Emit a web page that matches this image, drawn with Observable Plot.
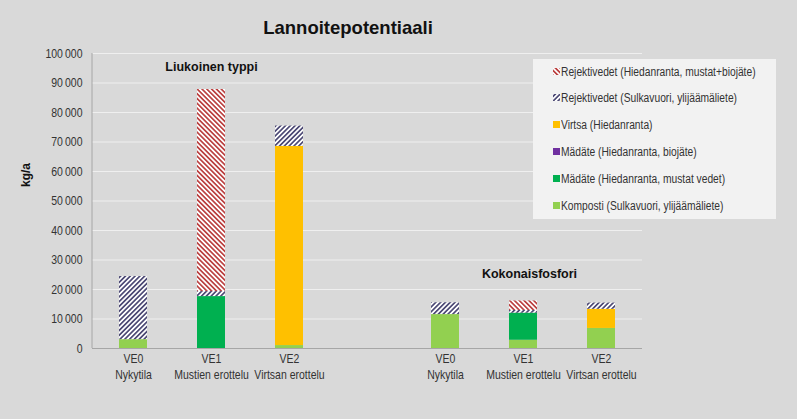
<!DOCTYPE html>
<html><head><meta charset="utf-8">
<script src="https://cdn.jsdelivr.net/npm/d3@7"></script>
<script src="https://cdn.jsdelivr.net/npm/@observablehq/plot@0.6"></script>
<style>
body{margin:0;background:#d9d9d9;}
#chart{position:relative;width:797px;height:419px;background:#d9d9d9;overflow:hidden;
  font-family:"Liberation Sans",Arial,sans-serif;color:#333;}
#title{position:absolute;left:238px;width:220px;top:17px;text-align:center;font:bold 18.5px "Liberation Sans",Arial,sans-serif;color:#111;}
#ylab{position:absolute;left:8px;top:168px;width:36px;text-align:center;transform:rotate(-90deg);font:bold 12px "Liberation Sans",Arial,sans-serif;color:#111;}
#legend{position:absolute;left:533px;top:59px;width:243px;height:160px;background:#f2f2f2;}
.row{position:absolute;left:20px;height:16px;line-height:16px;font-size:12.5px;white-space:nowrap;}
.row svg{position:absolute;left:0;top:4px;}
.row span{position:absolute;left:8px;top:0;transform:scaleX(0.82);transform-origin:0 50%;}
#plot{position:absolute;left:0;top:0;}
</style></head>
<body>
<div id="chart">
  <div id="plot"></div>
  <div id="title">Lannoitepotentiaali</div>
  <div id="ylab">kg/a</div>
  <div id="legend"></div>
</div>
<script>
// ---- data ----
const groups = ["Liukoinen typpi", "Kokonaisfosfori"];
const groupKeys = ["N", "P"];
const categories = ["VE0\nNykytila", "VE1\nMustien erottelu", "VE2\nVirtsan erottelu"];
const series = [
  "Komposti (Sulkavuori, ylijäämäliete)",
  "Mädäte (Hiedanranta, mustat vedet)",
  "Mädäte (Hiedanranta, biojäte)",
  "Virtsa (Hiedanranta)",
  "Rejektivedet (Sulkavuori, ylijäämäliete)",
  "Rejektivedet (Hiedanranta, mustat+biojäte)"
];
const seriesFills = ["#92d050", "#00b050", "#7030a0", "#ffc000", "url(#hatchNavy)", "url(#hatchRed)"];
// values per series: [N VE0, N VE1, N VE2], [P VE0, P VE1, P VE2]
const kompostiN = [3000, 0, 1000],     kompostiP = [11500, 2800, 6800];
const mustatN   = [0, 17600, 0],       mustatP   = [0, 9200, 0];
const biojateN  = [0, 0, 0],           biojateP  = [0, 0, 0];
const virtsaN   = [0, 0, 67500],       virtsaP   = [0, 0, 6500];
const sulkaN    = [21400, 1700, 6900], sulkaP    = [4000, 900, 2100];
const hiedaN    = [0, 68500, 0],       hiedaP    = [0, 3200, 0];
const yTicks = [0, 10000, 20000, 30000, 40000, 50000, 60000, 70000, 80000, 90000, 100000];
const groupLabelY = [95500, 25300];

// ---- build table ----
const valuesN = [kompostiN, mustatN, biojateN, virtsaN, sulkaN, hiedaN];
const valuesP = [kompostiP, mustatP, biojateP, virtsaP, sulkaP, hiedaP];
const keyOf = (g, i) => groupKeys[g] + i;
const xDomain = [...categories.map((c, i) => keyOf(0, i)), "gap", ...categories.map((c, i) => keyOf(1, i))];
const labelOf = new Map();
categories.forEach((c, i) => { labelOf.set(keyOf(0, i), c); labelOf.set(keyOf(1, i), c); });
const rows = [];
[valuesN, valuesP].forEach((vals, g) => {
  series.forEach((s, si) => {
    categories.forEach((c, i) => rows.push({x: keyOf(g, i), series: s, value: vals[si][i]}));
  });
});
const groupLabels = groups.map((g, i) => ({x: keyOf(i, 1), y: groupLabelY[i], text: g}));

const plot = Plot.plot({
  width: 797, height: 419,
  marginLeft: 92, marginRight: 155, marginTop: 53, marginBottom: 71,
  style: {background: "transparent", fontFamily: '"Liberation Sans",Arial,sans-serif', fontSize: "12.5px", color: "#333"},
  x: {domain: xDomain, paddingInner: 0.64, paddingOuter: 0.32},
  y: {domain: [0, 100000]},
  color: {domain: series, range: seriesFills},
  marks: [
    Plot.gridY(yTicks, {stroke: "#efefef", strokeOpacity: 1}),
    Plot.barY(rows, {x: "x", y: "value", fill: "series", order: null}),
    Plot.ruleY([0], {stroke: "#a6a6a6"}),
    Plot.axisY(yTicks, {tickSize: 0, tickPadding: 10, label: null, fontSize: 12.5,
      tickFormat: d => d3.format(",")(d).replace(/,/g, "\u2009")}),
    Plot.axisX({tickSize: 0, tickPadding: 3, label: null, fontSize: 12.5, lineHeight: 1.27,
      tickFormat: d => labelOf.get(d) || ""}),
    Plot.text(groupLabels.slice(0, 1), {x: "x", y: "y", text: "text", dx: 0, fontWeight: "bold",
      fontSize: 12.5, fill: "#111"}),
    Plot.text(groupLabels.slice(1), {x: "x", y: "y", text: "text", dx: 6, fontWeight: "bold",
      fontSize: 12.5, fill: "#111"})
  ]
});

// hatch patterns
const svg = d3.select(plot);
const defs = svg.insert("defs", ":first-child");
function hatch(id, color, angle) {
  const w = 3.4;
  const p = defs.append("pattern").attr("id", id).attr("patternUnits", "userSpaceOnUse")
    .attr("width", w).attr("height", w).attr("patternTransform", `rotate(${angle})`);
  p.append("rect").attr("width", w).attr("height", w).attr("fill", "#fff");
  p.append("line").attr("x1", w / 2).attr("y1", 0).attr("x2", w / 2).attr("y2", w)
    .attr("stroke", color).attr("stroke-width", 1.45);
}
hatch("hatchNavy", "#2f2b5e", 45);
hatch("hatchRed", "#b02222", -45);

// condense axis tick labels horizontally (narrow type as in the reference)
svg.selectAll('g[aria-label="y-axis tick label"] text, g[aria-label="x-axis tick label"] text')
  .attr("transform", function() { return (this.getAttribute("transform") || "") + " scale(0.84,1)"; });

// left axis line, using the plot's own scales
const xs = plot.scale("x"), ys = plot.scale("y");
const yScale = d3.scaleLinear(ys.domain, ys.range);
svg.append("line").attr("x1", xs.range[0]).attr("x2", xs.range[0])
  .attr("y1", yScale(ys.domain[1])).attr("y2", yScale(0)).attr("stroke", "#a6a6a6");

document.getElementById("plot").appendChild(plot);

// legend (reverse order, as in reference)
const legend = document.getElementById("legend");
const rowTops = [5, 31, 58, 85, 112, 139];
series.slice().reverse().forEach((s, i) => {
  const fill = seriesFills[series.indexOf(s)];
  const r = document.createElement("div");
  r.className = "row";
  r.style.top = rowTops[i] + "px";
  r.innerHTML = `<svg width="7" height="7"><rect width="7" height="7" fill="${fill}"/></svg><span>${s}</span>`;
  legend.appendChild(r);
});
</script>
</body></html>
